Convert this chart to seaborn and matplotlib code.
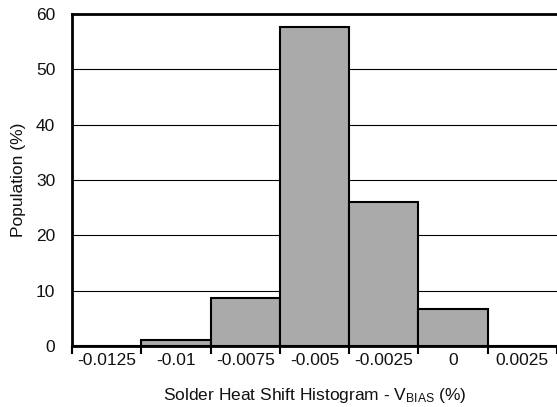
import matplotlib
matplotlib.use("Agg")
import matplotlib.pyplot as plt
import numpy as np
import seaborn as sns
import pandas as pd

# histogram bins (category labels) and population per bin
bins = ["-0.0125", "-0.01", "-0.0075", "-0.005", "-0.0025", "0", "0.0025"]
population = [0, 1.1, 8.6, 57.6, 26.1, 6.6, 0]

sns.set_style("white")
plt.rcParams['font.family'] = ['Liberation Sans', 'DejaVu Sans']
plt.rcParams['mathtext.default'] = 'regular'

df = pd.DataFrame({"bin": bins, "pop": population})

fig = plt.figure(figsize=(5.57, 4.07), dpi=100)
ax = fig.add_axes([0.1293, 0.1499, 0.8707, 0.8157])

sns.barplot(data=df, x="bin", y="pop", color="#aaaaaa", saturation=1,
            width=1.0, edgecolor="black", linewidth=1.5, ax=ax, zorder=3)

ax.set_ylim(0, 60)
ax.set_xlim(-0.5, len(bins) - 0.5)
ax.set_yticks(np.arange(0, 61, 10))
ax.yaxis.grid(True, color="black", linewidth=0.8, zorder=0)
ax.set_axisbelow(True)

# tick marks on bin boundaries, labels centred in the bins
ax.set_xticks(np.arange(-0.5, len(bins), 1.0), minor=True)
ax.tick_params(axis="x", which="major", length=0, labelsize=12.5, pad=5, labelcolor="#111111")
ax.tick_params(axis="x", which="minor", length=6, width=1.5, color="black", direction="out", bottom=True)
ax.tick_params(axis="y", length=0, labelsize=12.5, pad=12, labelcolor="#111111")

for s in ["left", "bottom", "top"]:
    ax.spines[s].set_color("black")
    ax.spines[s].set_linewidth(2)
ax.spines["right"].set_visible(False)

ax.set_xlabel("Solder Heat Shift Histogram - V$_{BIAS}$ (%)", fontsize=12.5, labelpad=13, color="#111111")
ax.set_ylabel("Population (%)", fontsize=12.5, labelpad=7, color="#111111")

fig.savefig("out.png", dpi=100)
